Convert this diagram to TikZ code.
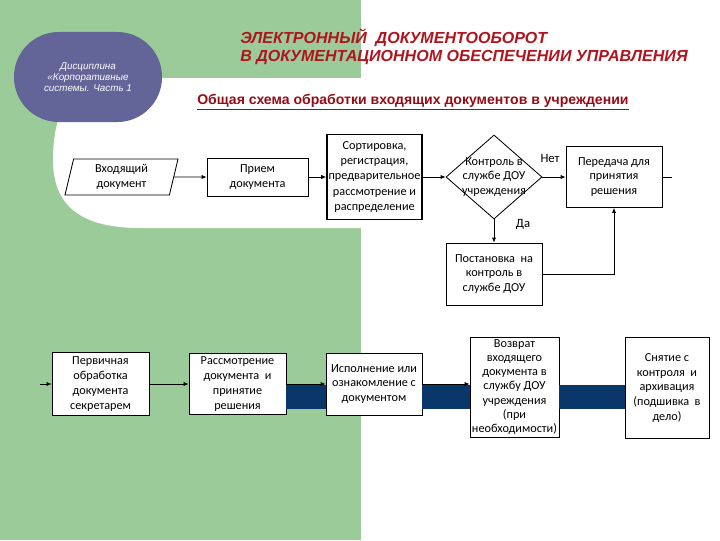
\documentclass[tikz,border=0pt]{standalone}
\usepackage{fontspec}
\setmainfont{Carlito}
\newfontfamily\headfont{Liberation Sans}
\usetikzlibrary{shapes.geometric, arrows.meta, positioning}
\definecolor{bggreen}{RGB}{155,203,152}
\definecolor{discviolet}{RGB}{99,100,152}
\definecolor{headred}{RGB}{176,20,30}
\definecolor{subred}{RGB}{150,12,22}
\definecolor{bandblue}{RGB}{10,55,105}

\begin{document}
\begin{tikzpicture}[
    x=0.025cm, y=-0.025cm,
    box/.style={rectangle, draw, fill=white, line width=0.6pt, inner sep=0pt,
                align=center, font=\fontsize{8.7}{10.5}\selectfont},
    slanted/.style={box, trapezium, trapezium left angle=71, trapezium right angle=109,
                trapezium stretches body},
    decision/.style={diamond, draw, fill=white, line width=0.6pt, inner sep=0pt},
    disc/.style={rectangle, fill=discviolet, rounded corners=1.12cm, text=white, align=center,
                font=\headfont\itshape\fontsize{7}{7.6}\selectfont},
    arr/.style={-{Latex[length=3.5pt,width=3pt]}, line width=0.5pt},
    band/.style={draw=bandblue, line width=0.6cm},
]
    \useasboundingbox (0,0) rectangle (720,540);
    \fill[bggreen] (0,0) rectangle (720,540);
    \fill[white] (361,0) rectangle (720,540);
    \fill[white] (361,78) -- (130,78) .. controls (70,78) and (53,110) .. (53,160)
        .. controls (53,205) and (80,228) .. (140,228) -- (361,228) -- cycle;

    \node[disc, minimum width=3.7cm, minimum height=2.25cm] (course) at (88,77)
        {Дисциплина\\«Корпоративные\\системы. Часть 1};
    \node[anchor=north west, inner sep=0pt, align=left, text=headred,
          font=\headfont\bfseries\itshape\fontsize{11.4}{12.4}\selectfont] (title) at (240,29)
        {ЭЛЕКТРОННЫЙ\ \ ДОКУМЕНТООБОРОТ\\В ДОКУМЕНТАЦИОННОМ ОБЕСПЕЧЕНИИ УПРАВЛЕНИЯ};
    \node[anchor=base west, inner sep=0pt, text=subred,
          font=\headfont\bfseries\fontsize{10}{12}\selectfont] (subtitle) at (197,104)
        {\underline{Общая схема обработки входящих документов в учреждении}};

    \node[slanted, minimum width=2.825cm, minimum height=0.9cm] (incoming) at (121.5,177)
        {Входящий\\документ};
    \node[box, minimum width=2.525cm, minimum height=0.95cm] (receipt) at (257.5,177)
        {Прием\\документа};
    \node[box, line width=1.2pt, minimum width=2.375cm, minimum height=2.125cm,
          font=\fontsize{8.7}{11}\selectfont] (sorting) at (374.5,177)
        {Сортировка,\\регистрация,\\предварительное\\рассмотрение и\\распределение};
    \node[decision, minimum width=2.4cm, minimum height=2.1cm,
          label={[font=\fontsize{8.7}{10.5}\selectfont, align=center]center:Контроль в\\службе ДОУ\\учреждения}]
        (check) at (494,177) {};
    \node[box, minimum width=2.4cm, minimum height=1.525cm] (transfer) at (614,177)
        {Передача для\\принятия\\решения};
    \node[box, minimum width=2.4cm, minimum height=1.55cm] (register) at (494,274)
        {Постановка\ \ на\\контроль в\\службе ДОУ};

    \node[box, minimum width=2.425cm, minimum height=1.575cm] (primary) at (100.5,384)
        {Первичная\\обработка\\документа\\секретарем};
    \node[box, minimum width=2.425cm, minimum height=1.525cm] (review) at (237.5,384)
        {Рассмотрение\\документа\ \ и\\принятие\\решения};
    \node[box, minimum width=2.4cm, minimum height=1.55cm] (execute) at (374,384)
        {Исполнение или\\ознакомление с\\документом};
    \node[box, minimum width=2.225cm, minimum height=2.5cm,
          font=\fontsize{8.7}{10.1}\selectfont] (giveback) at (514.5,387)
        {Возврат\\входящего\\документа в\\службу ДОУ\\учреждения\\(при\\необходимости)};
    \node[box, minimum width=2.1cm, minimum height=2.525cm] (archive) at (667,388)
        {Снятие с\\контроля\ \ и\\архивация\\(подшивка\ \ в\\дело)};

    \coordinate (outR) at (672,177);
    \coordinate (inL) at (40,384);
    \coordinate (bandy) at (0,397);

    \draw[band] (review.east |- bandy) -- (execute.west |- bandy);
    \draw[band] (execute.east |- bandy) -- (giveback.west |- bandy);
    \draw[band] (giveback.east |- bandy) -- (archive.west |- bandy);

    \draw[arr] (incoming) -- (receipt);
    \draw[arr] (receipt) -- (sorting);
    \draw[arr] (sorting) -- (check);
    \draw[arr] (check) -- node[pos=0.33, above=7pt, font=\fontsize{9}{10}\selectfont]{Нет} (transfer);
    \draw[line width=0.5pt] (transfer) -- (outR);
    \draw[arr] (check) -- node[pos=0.2, right=12pt, font=\fontsize{9}{10}\selectfont]{Да} (register);
    \draw[arr] (register.east) -| (transfer.south);
    \draw[arr] (inL) -- (primary);
    \draw[arr] (primary) -- (review);
    \draw[arr] (review) -- (execute);
    \draw[arr] (execute.east) -- (execute.east -| giveback.west);
\end{tikzpicture}
\end{document}
